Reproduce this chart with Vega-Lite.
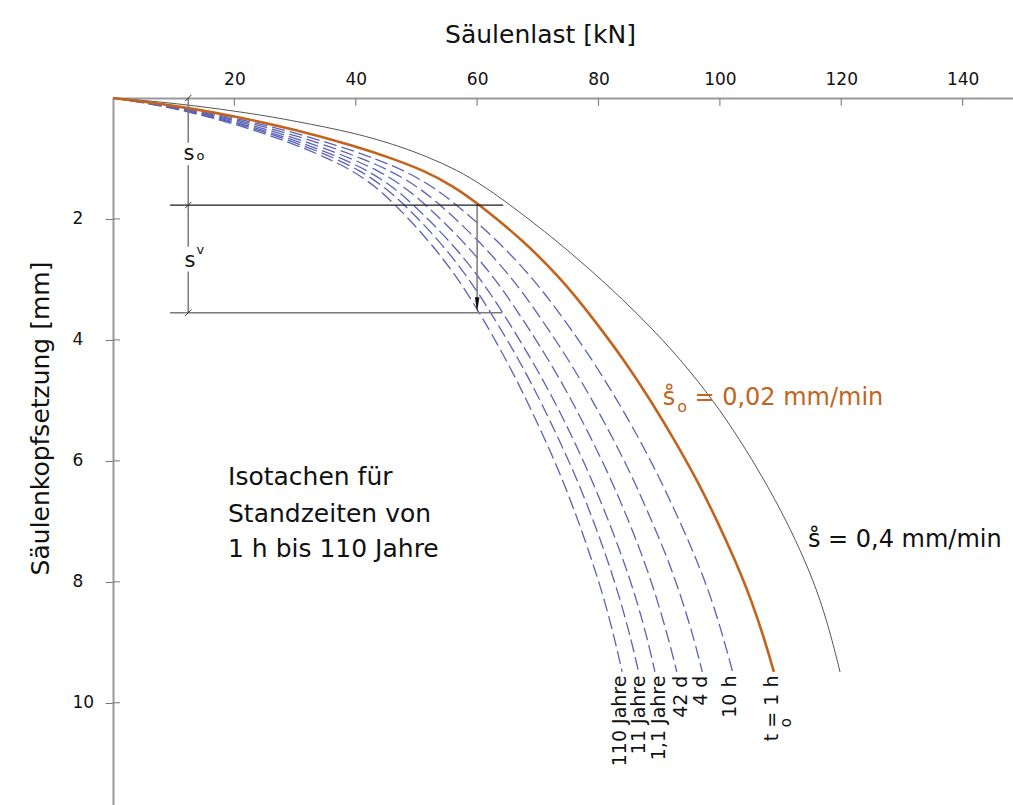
{
  "$schema": "https://vega.github.io/schema/vega-lite/v6.json",
  "width": 900,
  "height": 707,
  "autosize": {"type": "none"},
  "padding": {"left": 113, "top": 98, "right": 0, "bottom": 0},
  "config": {"view": {"stroke": null}, "font": "DejaVu Sans", "text": {"font": "DejaVu Sans"}},
  "datasets": {
    "curves": [
      {"c":"10 h","x":0,"y":0},{"c":"10 h","x":9.4,"y":0.12},{"c":"10 h","x":18.8,"y":0.3},{"c":"10 h","x":28.1,"y":0.52},{"c":"10 h","x":37.5,"y":0.8},{"c":"10 h","x":43.1,"y":1.0},{"c":"10 h","x":47.8,"y":1.19},{"c":"10 h","x":52.5,"y":1.45},{"c":"10 h","x":56.7,"y":1.77},{"c":"10 h","x":63.3,"y":2.35},{"c":"10 h","x":69.4,"y":3.0},{"c":"10 h","x":74.4,"y":3.67},{"c":"10 h","x":79.0,"y":4.33},{"c":"10 h","x":83.1,"y":5.0},{"c":"10 h","x":86.8,"y":5.65},{"c":"10 h","x":90.2,"y":6.31},{"c":"10 h","x":93.4,"y":7.0},{"c":"10 h","x":96.2,"y":7.64},{"c":"10 h","x":98.7,"y":8.3},{"c":"10 h","x":100.8,"y":9.0},{"c":"10 h","x":102.1,"y":9.49},
      {"c":"4 d","x":0,"y":0},{"c":"4 d","x":8.9,"y":0.12},{"c":"4 d","x":17.8,"y":0.3},{"c":"4 d","x":26.8,"y":0.52},{"c":"4 d","x":35.7,"y":0.8},{"c":"4 d","x":41.0,"y":1.0},{"c":"4 d","x":45.5,"y":1.19},{"c":"4 d","x":50.0,"y":1.45},{"c":"4 d","x":54.0,"y":1.77},{"c":"4 d","x":60.2,"y":2.35},{"c":"4 d","x":66.0,"y":3.0},{"c":"4 d","x":70.7,"y":3.67},{"c":"4 d","x":75.1,"y":4.33},{"c":"4 d","x":79.0,"y":5.0},{"c":"4 d","x":82.5,"y":5.65},{"c":"4 d","x":85.8,"y":6.31},{"c":"4 d","x":88.8,"y":7.0},{"c":"4 d","x":91.5,"y":7.64},{"c":"4 d","x":93.8,"y":8.3},{"c":"4 d","x":95.9,"y":9.0},{"c":"4 d","x":97.1,"y":9.49},
      {"c":"42 d","x":0,"y":0},{"c":"42 d","x":8.5,"y":0.12},{"c":"42 d","x":17.1,"y":0.3},{"c":"42 d","x":25.6,"y":0.52},{"c":"42 d","x":34.1,"y":0.8},{"c":"42 d","x":39.2,"y":1.0},{"c":"42 d","x":43.5,"y":1.19},{"c":"42 d","x":47.8,"y":1.45},{"c":"42 d","x":51.6,"y":1.77},{"c":"42 d","x":57.6,"y":2.35},{"c":"42 d","x":63.1,"y":3.0},{"c":"42 d","x":67.6,"y":3.67},{"c":"42 d","x":71.8,"y":4.33},{"c":"42 d","x":75.6,"y":5.0},{"c":"42 d","x":78.9,"y":5.65},{"c":"42 d","x":82.1,"y":6.31},{"c":"42 d","x":85.0,"y":7.0},{"c":"42 d","x":87.5,"y":7.64},{"c":"42 d","x":89.7,"y":8.3},{"c":"42 d","x":91.7,"y":9.0},{"c":"42 d","x":92.9,"y":9.49},
      {"c":"1,1 Jahre","x":0,"y":0},{"c":"1,1 Jahre","x":8.2,"y":0.12},{"c":"1,1 Jahre","x":16.4,"y":0.3},{"c":"1,1 Jahre","x":24.6,"y":0.52},{"c":"1,1 Jahre","x":32.8,"y":0.8},{"c":"1,1 Jahre","x":37.7,"y":1.0},{"c":"1,1 Jahre","x":41.8,"y":1.19},{"c":"1,1 Jahre","x":45.9,"y":1.45},{"c":"1,1 Jahre","x":49.6,"y":1.77},{"c":"1,1 Jahre","x":55.4,"y":2.35},{"c":"1,1 Jahre","x":60.7,"y":3.0},{"c":"1,1 Jahre","x":65.0,"y":3.67},{"c":"1,1 Jahre","x":69.0,"y":4.33},{"c":"1,1 Jahre","x":72.7,"y":5.0},{"c":"1,1 Jahre","x":75.9,"y":5.65},{"c":"1,1 Jahre","x":78.9,"y":6.31},{"c":"1,1 Jahre","x":81.7,"y":7.0},{"c":"1,1 Jahre","x":84.1,"y":7.64},{"c":"1,1 Jahre","x":86.3,"y":8.3},{"c":"1,1 Jahre","x":88.2,"y":9.0},{"c":"1,1 Jahre","x":89.3,"y":9.49},
      {"c":"11 Jahre","x":0,"y":0},{"c":"11 Jahre","x":8.0,"y":0.12},{"c":"11 Jahre","x":15.9,"y":0.3},{"c":"11 Jahre","x":23.9,"y":0.52},{"c":"11 Jahre","x":31.8,"y":0.8},{"c":"11 Jahre","x":36.6,"y":1.0},{"c":"11 Jahre","x":40.5,"y":1.19},{"c":"11 Jahre","x":44.5,"y":1.45},{"c":"11 Jahre","x":48.1,"y":1.77},{"c":"11 Jahre","x":53.7,"y":2.35},{"c":"11 Jahre","x":58.8,"y":3.0},{"c":"11 Jahre","x":63.0,"y":3.67},{"c":"11 Jahre","x":66.9,"y":4.33},{"c":"11 Jahre","x":70.4,"y":5.0},{"c":"11 Jahre","x":73.5,"y":5.65},{"c":"11 Jahre","x":76.5,"y":6.31},{"c":"11 Jahre","x":79.2,"y":7.0},{"c":"11 Jahre","x":81.5,"y":7.64},{"c":"11 Jahre","x":83.6,"y":8.3},{"c":"11 Jahre","x":85.5,"y":9.0},{"c":"11 Jahre","x":86.6,"y":9.49},
      {"c":"110 Jahre","x":0,"y":0},{"c":"110 Jahre","x":7.7,"y":0.12},{"c":"110 Jahre","x":15.4,"y":0.3},{"c":"110 Jahre","x":23.1,"y":0.52},{"c":"110 Jahre","x":30.8,"y":0.8},{"c":"110 Jahre","x":35.4,"y":1.0},{"c":"110 Jahre","x":39.3,"y":1.19},{"c":"110 Jahre","x":43.1,"y":1.45},{"c":"110 Jahre","x":46.6,"y":1.77},{"c":"110 Jahre","x":52.0,"y":2.35},{"c":"110 Jahre","x":57.0,"y":3.0},{"c":"110 Jahre","x":61.1,"y":3.67},{"c":"110 Jahre","x":64.8,"y":4.33},{"c":"110 Jahre","x":68.2,"y":5.0},{"c":"110 Jahre","x":71.2,"y":5.65},{"c":"110 Jahre","x":74.1,"y":6.31},{"c":"110 Jahre","x":76.7,"y":7.0},{"c":"110 Jahre","x":78.9,"y":7.64},{"c":"110 Jahre","x":81.0,"y":8.3},{"c":"110 Jahre","x":82.8,"y":9.0},{"c":"110 Jahre","x":83.9,"y":9.49},
      {"c":"1 h","x":0,"y":0},{"c":"1 h","x":10,"y":0.12},{"c":"1 h","x":20,"y":0.3},{"c":"1 h","x":30,"y":0.52},{"c":"1 h","x":40,"y":0.8},{"c":"1 h","x":46,"y":1.0},{"c":"1 h","x":51,"y":1.19},{"c":"1 h","x":56,"y":1.45},{"c":"1 h","x":60.5,"y":1.77},{"c":"1 h","x":67.5,"y":2.35},{"c":"1 h","x":74,"y":3.0},{"c":"1 h","x":79.3,"y":3.67},{"c":"1 h","x":84.2,"y":4.33},{"c":"1 h","x":88.6,"y":5.0},{"c":"1 h","x":92.5,"y":5.65},{"c":"1 h","x":96.2,"y":6.31},{"c":"1 h","x":99.6,"y":7.0},{"c":"1 h","x":102.5,"y":7.64},{"c":"1 h","x":105.2,"y":8.3},{"c":"1 h","x":107.5,"y":9.0},{"c":"1 h","x":108.9,"y":9.49},
      {"c":"0,4","x":0,"y":0},{"c":"0,4","x":10,"y":0.08},{"c":"0,4","x":22.6,"y":0.25},{"c":"0,4","x":30,"y":0.38},{"c":"0,4","x":40,"y":0.58},{"c":"0,4","x":47.3,"y":0.8},{"c":"0,4","x":52,"y":0.98},{"c":"0,4","x":56.7,"y":1.19},{"c":"0,4","x":61,"y":1.45},{"c":"0,4","x":65.5,"y":1.77},{"c":"0,4","x":73,"y":2.35},{"c":"0,4","x":80.5,"y":3.0},{"c":"0,4","x":87.5,"y":3.67},{"c":"0,4","x":93.6,"y":4.33},{"c":"0,4","x":98.9,"y":5.0},{"c":"0,4","x":103.3,"y":5.65},{"c":"0,4","x":107.3,"y":6.31},{"c":"0,4","x":111,"y":7.0},{"c":"0,4","x":114,"y":7.64},{"c":"0,4","x":116.6,"y":8.3},{"c":"0,4","x":118.6,"y":9.0},{"c":"0,4","x":119.8,"y":9.49}
    ],
    "segments": [
      {"k":"dark","x":9.4,"x2":64.3,"y":1.77,"y2":1.77},
      {"k":"gray","x":9.4,"x2":64.1,"y":3.55,"y2":3.55},
      {"k":"gray","x":60,"x2":60,"y":1.77,"y2":3.45},
      {"k":"gray","x":12.4,"x2":12.4,"y":0,"y2":0.74},
      {"k":"gray","x":12.4,"x2":12.4,"y":1.11,"y2":2.46},
      {"k":"gray","x":12.4,"x2":12.4,"y":2.87,"y2":3.55}
    ],
    "xticks": [{"x":20,"y":0,"y2":0.13},{"x":40,"y":0,"y2":0.13},{"x":60,"y":0,"y2":0.13},{"x":80,"y":0,"y2":0.13},{"x":100,"y":0,"y2":0.13},{"x":120,"y":0,"y2":0.13},{"x":140,"y":0,"y2":0.13}],
    "yticks": [{"y":2,"x":0,"x2":1.15},{"y":4,"x":0,"x2":1.15},{"y":6,"x":0,"x2":1.15},{"y":8,"x":0,"x2":1.15},{"y":10,"x":0,"x2":1.15}],
    "marks": [{"x":12.4,"y":0},{"x":12.4,"y":1.77},{"x":12.4,"y":3.55}],
    "arrow": [{"x":60,"y":3.42}],
    "texts": [
      {"g":"orange","t":"s̊","x":90.6,"y":5.07},
      {"g":"orange","t":"= 0,02 mm/min","x":95.8,"y":5.07},
      {"g":"orangesub","t":"o","x":93.8,"y":5.2},
      {"g":"black","t":"s̊ = 0,4 mm/min","x":114.5,"y":7.42},
      {"g":"iso","t":"Isotachen für","x":18.95,"y":6.40},
      {"g":"iso","t":"Standzeiten von","x":18.95,"y":7.01},
      {"g":"iso","t":"1 h bis 110 Jahre","x":18.95,"y":7.59},
      {"g":"s","t":"s","x":12.5,"y":1.02},
      {"g":"s","t":"s","x":12.7,"y":2.79},
      {"g":"sub","t":"o","x":14.4,"y":1.02},
      {"g":"sub","t":"v","x":14.4,"y":2.58},
      {"g":"rot","t":"110 Jahre","x":83.5,"y":9.55},
      {"g":"rot","t":"11 Jahre","x":86.7,"y":9.55},
      {"g":"rot","t":"1,1 Jahre","x":89.9,"y":9.55},
      {"g":"rot","t":"42 d","x":93.6,"y":9.55},
      {"g":"rot","t":"4 d","x":96.9,"y":9.55},
      {"g":"rot","t":"10 h","x":101.6,"y":9.55},
      {"g":"rot","t":"t = 1 h","x":108.6,"y":9.55},
      {"g":"rotsub","t":"o","x":110.9,"y":10.33}
    ]
  },
  "layer": [
    {
      "data": {"name": "curves"},
      "transform": [{"filter": "datum.c !== '1 h' && datum.c !== '0,4'"}],
      "mark": {"type": "line", "interpolate": "basis", "color": "#5a62b8", "strokeWidth": 1.3, "strokeDash": [13, 5], "strokeCap": "butt"},
      "encoding": {
        "x": {"field": "x", "type": "quantitative", "scale": {"domain": [0, 148.3], "nice": false, "zero": false},
          "axis": {"orient": "top", "values": [20,40,60,80,100,120,140], "format": "d", "title": "Säulenlast [kN]", "titleFont": "DejaVu Sans", "titleFontSize": 25, "titleFontWeight": "normal", "titleColor": "#111", "titleX": 427, "titleY": -56, "titleAlign": "center", "titleBaseline": "alphabetic", "labelFont": "DejaVu Sans", "labelFontSize": 17, "labelColor": "#111", "labelPadding": 10, "ticks": false, "domainColor": "#999", "domainWidth": 2, "grid": false, "labelFlush": false, "labelOverlap": false}},
        "y": {"field": "y", "type": "quantitative", "scale": {"domain": [0, 11.69], "nice": false, "zero": false, "reverse": true},
          "axis": {"orient": "left", "values": [2,4,6,8,10], "format": "d", "title": "Säulenkopfsetzung [mm]", "titleFont": "DejaVu Sans", "titleFontSize": 25, "titleFontWeight": "normal", "titleColor": "#111", "titleX": -73, "titleY": 320, "titleAngle": 270, "titleAlign": "center", "titleBaseline": "middle", "labelFont": "DejaVu Sans", "labelFontSize": 17, "labelColor": "#111", "labelAlign": "left", "labelPadding": 33, "tickSize": 8, "tickColor": "#777", "domainColor": "#999", "domainWidth": 2, "grid": false, "labelFlush": false, "labelOverlap": false}},
        "detail": {"field": "c"}
      }
    },
    {
      "data": {"name": "curves"},
      "transform": [{"filter": "datum.c === '0,4'"}],
      "mark": {"type": "line", "interpolate": "basis", "color": "#555555", "strokeWidth": 1},
      "encoding": {"x": {"field": "x", "type": "quantitative"}, "y": {"field": "y", "type": "quantitative"}}
    },
    {
      "data": {"name": "curves"},
      "transform": [{"filter": "datum.c === '1 h'"}],
      "mark": {"type": "line", "interpolate": "basis", "color": "#c2641e", "strokeWidth": 2.6},
      "encoding": {"x": {"field": "x", "type": "quantitative"}, "y": {"field": "y", "type": "quantitative"}}
    },
    {
      "data": {"name": "segments"},
      "transform": [{"filter": "datum.k === 'gray'"}],
      "mark": {"type": "rule", "color": "#7a7a7a", "strokeWidth": 1.5},
      "encoding": {"x": {"field": "x", "type": "quantitative"}, "x2": {"field": "x2"}, "y": {"field": "y", "type": "quantitative"}, "y2": {"field": "y2"}}
    },
    {
      "data": {"name": "segments"},
      "transform": [{"filter": "datum.k === 'dark'"}],
      "mark": {"type": "rule", "color": "#1a1a1a", "strokeWidth": 1.2},
      "encoding": {"x": {"field": "x", "type": "quantitative"}, "x2": {"field": "x2"}, "y": {"field": "y", "type": "quantitative"}, "y2": {"field": "y2"}}
    },
    {
      "data": {"name": "xticks"},
      "mark": {"type": "rule", "color": "#888888", "strokeWidth": 1.2},
      "encoding": {"x": {"field": "x", "type": "quantitative"}, "y": {"field": "y", "type": "quantitative"}, "y2": {"field": "y2"}}
    },
    {
      "data": {"name": "yticks"},
      "mark": {"type": "rule", "color": "#777777", "strokeWidth": 1},
      "encoding": {"x": {"field": "x", "type": "quantitative"}, "x2": {"field": "x2"}, "y": {"field": "y", "type": "quantitative"}}
    },
    {
      "data": {"name": "marks"},
      "mark": {"type": "point", "shape": "M-1,1L1,-1", "size": 40, "stroke": "#333333", "strokeWidth": 1, "filled": false, "opacity": 1},
      "encoding": {"x": {"field": "x", "type": "quantitative"}, "y": {"field": "y", "type": "quantitative"}}
    },
    {
      "data": {"name": "arrow"},
      "mark": {"type": "point", "shape": "M-0.3,-1L0.3,-1L0,1Z", "size": 225, "color": "#111111", "filled": true, "opacity": 1},
      "encoding": {"x": {"field": "x", "type": "quantitative"}, "y": {"field": "y", "type": "quantitative"}}
    },
    {
      "data": {"name": "texts"},
      "transform": [{"filter": "datum.g === 'orange'"}],
      "mark": {"type": "text", "font": "DejaVu Sans", "fontSize": 24, "color": "#c2641e", "align": "left", "baseline": "alphabetic"},
      "encoding": {"x": {"field": "x", "type": "quantitative"}, "y": {"field": "y", "type": "quantitative"}, "text": {"field": "t"}}
    },
    {
      "data": {"name": "texts"},
      "transform": [{"filter": "datum.g === 'orangesub'"}],
      "mark": {"type": "text", "font": "DejaVu Sans", "fontSize": 16, "color": "#c2641e", "align": "center", "baseline": "alphabetic"},
      "encoding": {"x": {"field": "x", "type": "quantitative"}, "y": {"field": "y", "type": "quantitative"}, "text": {"field": "t"}}
    },
    {
      "data": {"name": "texts"},
      "transform": [{"filter": "datum.g === 'black'"}],
      "mark": {"type": "text", "font": "DejaVu Sans", "fontSize": 24, "color": "#111111", "align": "left", "baseline": "alphabetic"},
      "encoding": {"x": {"field": "x", "type": "quantitative"}, "y": {"field": "y", "type": "quantitative"}, "text": {"field": "t"}}
    },
    {
      "data": {"name": "texts"},
      "transform": [{"filter": "datum.g === 'iso'"}],
      "mark": {"type": "text", "font": "DejaVu Sans", "fontSize": 25, "color": "#111111", "align": "left", "baseline": "alphabetic"},
      "encoding": {"x": {"field": "x", "type": "quantitative"}, "y": {"field": "y", "type": "quantitative"}, "text": {"field": "t"}}
    },
    {
      "data": {"name": "texts"},
      "transform": [{"filter": "datum.g === 's'"}],
      "mark": {"type": "text", "font": "DejaVu Sans", "fontSize": 21, "color": "#111111", "align": "center", "baseline": "alphabetic"},
      "encoding": {"x": {"field": "x", "type": "quantitative"}, "y": {"field": "y", "type": "quantitative"}, "text": {"field": "t"}}
    },
    {
      "data": {"name": "texts"},
      "transform": [{"filter": "datum.g === 'sub'"}],
      "mark": {"type": "text", "font": "DejaVu Sans", "fontSize": 13, "color": "#111111", "align": "center", "baseline": "alphabetic"},
      "encoding": {"x": {"field": "x", "type": "quantitative"}, "y": {"field": "y", "type": "quantitative"}, "text": {"field": "t"}}
    },
    {
      "data": {"name": "texts"},
      "transform": [{"filter": "datum.g === 'rot'"}],
      "mark": {"type": "text", "font": "DejaVu Sans", "fontSize": 19, "color": "#111111", "align": "right", "baseline": "middle", "angle": 270},
      "encoding": {"x": {"field": "x", "type": "quantitative"}, "y": {"field": "y", "type": "quantitative"}, "text": {"field": "t"}}
    },
    {
      "data": {"name": "texts"},
      "transform": [{"filter": "datum.g === 'rotsub'"}],
      "mark": {"type": "text", "font": "DejaVu Sans", "fontSize": 15, "color": "#111111", "align": "center", "baseline": "middle", "angle": 270},
      "encoding": {"x": {"field": "x", "type": "quantitative"}, "y": {"field": "y", "type": "quantitative"}, "text": {"field": "t"}}
    }
  ]
}
